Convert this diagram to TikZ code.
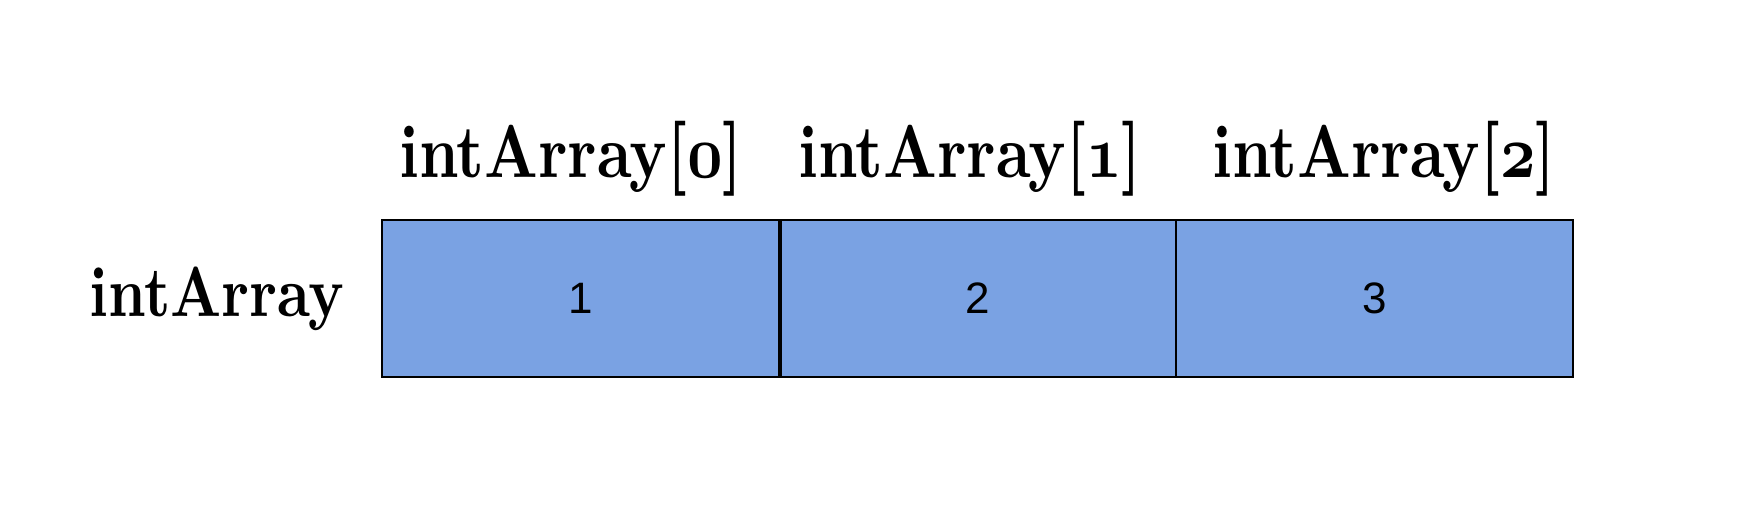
\documentclass[tikz,border=0pt]{standalone}
\usepackage{fontspec}
\usepackage{graphicx}
\newfontfamily\digitfont{Liberation Sans}
\definecolor{cellblue}{RGB}{122,162,227}
\tikzset{
  cell/.style={draw=black, fill=cellblue, line width=2pt, rectangle,
    minimum width=397pt, minimum height=157pt, inner sep=0pt, anchor=north west,
    font=\digitfont\fontsize{44}{50}\selectfont},
  toplabel/.style={anchor=base, inner sep=0pt, font=\bfseries\boldmath},
}
\begin{document}
\begin{tikzpicture}[x=1pt,y=1pt]
\useasboundingbox (0,0) rectangle (1742,-514);
\node[cell] (c0) at (381,-219) {1};
\node[cell] (c1) at (778,-219) {2};
\node[cell] (c2) at (1175,-219) {3};
\draw[line width=3pt] (c0.north east) -- (c0.south east);
\node[toplabel] (l0) at (571,-177) {\scalebox{6.2}[7.5]{intArray[$\mathnormal{0}$]}};
\node[toplabel] (l1) at (970,-177) {\scalebox{6.2}[7.5]{intArray[$\mathnormal{1}$]}};
\node[toplabel] (l2) at (1384,-177) {\scalebox{6.2}[7.5]{intArray[$\mathnormal{2}$]}};
\node[toplabel] (name) at (217,-316) {\scalebox{5.9}[7.1]{intArray}};
\end{tikzpicture}
\end{document}
